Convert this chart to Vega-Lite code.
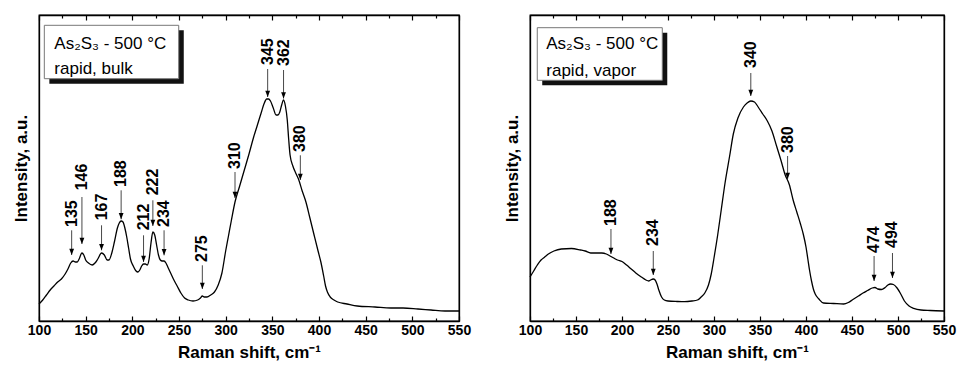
{
  "$schema": "https://vega.github.io/schema/vega-lite/v6.json",
  "padding": {"left": 11, "top": 13, "right": 0, "bottom": 0},
  "spacing": 30,
  "config": {
    "view": {"stroke": "#000000", "strokeWidth": 1.3},
    "font": "Liberation Sans",
    "axis": {"grid": false, "tickColor": "#000000", "domainColor": "#000000", "labelColor": "#000000", "titleColor": "#000000"}
  },
  "datasets": {
    "bulk": [
      {"shift":100,"intensity":17},{"shift":104,"intensity":21},{"shift":108,"intensity":26},{"shift":112,"intensity":31},{"shift":116,"intensity":35},{"shift":120,"intensity":39},{"shift":124,"intensity":42},{"shift":128,"intensity":47},{"shift":131,"intensity":52},{"shift":134,"intensity":58},{"shift":136.5,"intensity":60},{"shift":139,"intensity":59},{"shift":141,"intensity":59},{"shift":143,"intensity":62},{"shift":146,"intensity":68},{"shift":148,"intensity":66},{"shift":150,"intensity":61},{"shift":153,"intensity":58},{"shift":157,"intensity":56},{"shift":160,"intensity":58},{"shift":163,"intensity":62},{"shift":167,"intensity":68},{"shift":170,"intensity":66},{"shift":173,"intensity":61},{"shift":175,"intensity":61},{"shift":178,"intensity":68},{"shift":181,"intensity":80},{"shift":184,"intensity":93},{"shift":186,"intensity":98},{"shift":188,"intensity":100},{"shift":190,"intensity":99},{"shift":192,"intensity":93},{"shift":194,"intensity":84},{"shift":196,"intensity":73},{"shift":198,"intensity":62},{"shift":201,"intensity":55},{"shift":204,"intensity":50},{"shift":206,"intensity":49},{"shift":208,"intensity":51},{"shift":210,"intensity":55},{"shift":212,"intensity":57},{"shift":214,"intensity":57},{"shift":216,"intensity":56},{"shift":218,"intensity":62},{"shift":220,"intensity":78},{"shift":222,"intensity":89},{"shift":224,"intensity":86},{"shift":226,"intensity":76},{"shift":228,"intensity":66},{"shift":230,"intensity":61},{"shift":232,"intensity":60},{"shift":234,"intensity":60},{"shift":236,"intensity":58},{"shift":238,"intensity":54},{"shift":241,"intensity":48},{"shift":244,"intensity":42},{"shift":248,"intensity":35},{"shift":252,"intensity":28},{"shift":256,"intensity":23},{"shift":260,"intensity":21},{"shift":265,"intensity":20},{"shift":270,"intensity":21},{"shift":273,"intensity":23},{"shift":275,"intensity":25},{"shift":277,"intensity":24},{"shift":280,"intensity":24},{"shift":284,"intensity":26},{"shift":288,"intensity":29},{"shift":292,"intensity":36},{"shift":296,"intensity":48},{"shift":300,"intensity":70},{"shift":303,"intensity":85},{"shift":306,"intensity":100},{"shift":310,"intensity":119},{"shift":315,"intensity":135},{"shift":320,"intensity":151},{"shift":325,"intensity":167},{"shift":330,"intensity":184},{"shift":334,"intensity":196},{"shift":338,"intensity":208},{"shift":341,"intensity":217},{"shift":344,"intensity":222},{"shift":346,"intensity":222},{"shift":348,"intensity":220},{"shift":351,"intensity":213},{"shift":354,"intensity":206},{"shift":356,"intensity":206},{"shift":358,"intensity":209},{"shift":360,"intensity":216},{"shift":362,"intensity":221},{"shift":364,"intensity":215},{"shift":366,"intensity":201},{"shift":367.5,"intensity":182},{"shift":369,"intensity":166},{"shift":372,"intensity":155},{"shift":375,"intensity":148},{"shift":378,"intensity":142},{"shift":382,"intensity":130},{"shift":386,"intensity":119},{"shift":390,"intensity":104},{"shift":395,"intensity":85},{"shift":399,"intensity":70},{"shift":402,"intensity":59},{"shift":405,"intensity":45},{"shift":407,"intensity":35},{"shift":409,"intensity":29},{"shift":412,"intensity":24},{"shift":416,"intensity":21},{"shift":420,"intensity":19},{"shift":430,"intensity":17},{"shift":441,"intensity":15},{"shift":460,"intensity":14},{"shift":477,"intensity":13},{"shift":490,"intensity":13},{"shift":506,"intensity":12},{"shift":520,"intensity":11},{"shift":535,"intensity":10},{"shift":550,"intensity":10}
    ],
    "vapor": [
      {"shift":100,"intensity":44},{"shift":104,"intensity":50},{"shift":108,"intensity":56},{"shift":112,"intensity":61},{"shift":116,"intensity":64},{"shift":120,"intensity":67},{"shift":126,"intensity":70},{"shift":134,"intensity":72},{"shift":145,"intensity":72.5},{"shift":155,"intensity":71},{"shift":160,"intensity":70},{"shift":166,"intensity":68},{"shift":172,"intensity":68},{"shift":178,"intensity":68},{"shift":183,"intensity":67},{"shift":187,"intensity":65},{"shift":191,"intensity":63},{"shift":195,"intensity":61},{"shift":200,"intensity":59.5},{"shift":205,"intensity":56},{"shift":210,"intensity":52},{"shift":215,"intensity":48},{"shift":221,"intensity":44},{"shift":226,"intensity":41},{"shift":229,"intensity":40},{"shift":231,"intensity":41},{"shift":234,"intensity":42},{"shift":236,"intensity":41},{"shift":238,"intensity":37},{"shift":240,"intensity":31},{"shift":243,"intensity":24},{"shift":246,"intensity":21},{"shift":250,"intensity":20},{"shift":260,"intensity":19.5},{"shift":268,"intensity":19.3},{"shift":276,"intensity":20},{"shift":282,"intensity":21},{"shift":286,"intensity":24},{"shift":290,"intensity":28},{"shift":294,"intensity":36},{"shift":297,"intensity":47},{"shift":300,"intensity":63},{"shift":304,"intensity":86},{"shift":308,"intensity":112},{"shift":312,"intensity":138},{"shift":317,"intensity":165},{"shift":321,"intensity":187},{"shift":326,"intensity":203},{"shift":332,"intensity":214},{"shift":336,"intensity":218},{"shift":340,"intensity":220},{"shift":344,"intensity":219},{"shift":348,"intensity":214},{"shift":353,"intensity":207},{"shift":358,"intensity":200},{"shift":363,"intensity":190},{"shift":368,"intensity":175},{"shift":373,"intensity":160},{"shift":377,"intensity":147},{"shift":382,"intensity":136},{"shift":386,"intensity":121},{"shift":390,"intensity":109},{"shift":394,"intensity":97},{"shift":397,"intensity":87},{"shift":400,"intensity":74},{"shift":402,"intensity":62},{"shift":404,"intensity":50},{"shift":406,"intensity":40},{"shift":408,"intensity":32},{"shift":410,"intensity":27},{"shift":414,"intensity":22},{"shift":419,"intensity":18},{"shift":430,"intensity":17.5},{"shift":441,"intensity":17},{"shift":446,"intensity":18.5},{"shift":451,"intensity":21.5},{"shift":457,"intensity":25},{"shift":462,"intensity":28},{"shift":467,"intensity":30.5},{"shift":472,"intensity":33},{"shift":475,"intensity":33.5},{"shift":478,"intensity":32},{"shift":482,"intensity":31.5},{"shift":486,"intensity":33.5},{"shift":489,"intensity":36},{"shift":492,"intensity":37},{"shift":495,"intensity":36.5},{"shift":499,"intensity":33},{"shift":503,"intensity":27},{"shift":507,"intensity":20},{"shift":512,"intensity":15},{"shift":517,"intensity":12.7},{"shift":525,"intensity":11},{"shift":535,"intensity":10.5},{"shift":550,"intensity":10}
    ],
    "bulkPeaks": [
      {"peak":135,"label":"135","text":94,"top":90.7,"tip":66},
      {"peak":146,"label":"146","text":130.7,"top":124,"tip":77},
      {"peak":167,"label":"167","text":100.7,"top":95.7,"tip":70.7},
      {"peak":188,"label":"188","text":134,"top":130.7,"tip":101.7},
      {"peak":212,"label":"212","text":90.7,"top":85.7,"tip":59},
      {"peak":222,"label":"222","text":125.7,"top":120.7,"tip":95},
      {"peak":234,"label":"234","text":94,"top":90.7,"tip":65.7},
      {"peak":275,"label":"275","text":59,"top":55.7,"tip":32},
      {"peak":310,"label":"310","text":152,"top":149,"tip":123},
      {"peak":345,"label":"345","text":256,"top":252,"tip":224},
      {"peak":362,"label":"362","text":255,"top":251,"tip":222.5},
      {"peak":380,"label":"380","text":169,"top":165.7,"tip":141}
    ],
    "vaporPeaks": [
      {"peak":188,"label":"188","text":95,"top":92,"tip":67},
      {"peak":234,"label":"234","text":75,"top":70,"tip":46},
      {"peak":340,"label":"340","text":253,"top":248,"tip":225},
      {"peak":380,"label":"380","text":168,"top":165,"tip":142},
      {"peak":474,"label":"474","text":68,"top":65,"tip":40},
      {"peak":494,"label":"494","text":73,"top":68,"tip":43}
    ],
    "one": [{}]
  },
  "hconcat": [
    {
      "width": 420,
      "height": 306,
      "view": {"stroke": "#000000", "strokeWidth": 1.3},
      "resolve": {"axis": {"x": "independent", "y": "independent"}},
      "layer": [
        {
          "data": {"name": "bulk"},
          "mark": {"type": "line", "color": "#000000", "strokeWidth": 1.3, "interpolate": "monotone"},
          "encoding": {
            "x": {"field": "shift", "type": "quantitative", "scale": {"domain": [100, 550], "nice": false, "zero": false},
              "axis": {"orient": "bottom", "values": [100,150,200,250,300,350,400,450,500,550],
                "ticks": true, "tickSize": -5, "tickWidth": 1.2, "domain": true, "domainWidth": 1.3,
                "labelFontSize": 14, "labelFontWeight": "bold", "labelPadding": 7, "labelFlush": false, "labelOverlap": false,
                "title": "Raman shift, cm⁻¹", "titleFontSize": 17, "titleFontWeight": "bold", "titlePadding": 7}},
            "y": {"field": "intensity", "type": "quantitative", "scale": {"domain": [0, 306], "nice": false},
              "axis": {"ticks": false, "labels": false, "domain": true, "domainWidth": 1.3, "title": "Intensity, a.u.", "titleFontSize": 17, "titleFontWeight": "bold", "titlePadding": 9}}
          }
        },
        {
          "data": {"name": "bulkPeaks"},
          "mark": {"type": "rule", "color": "#333333", "strokeWidth": 0.9},
          "encoding": {
            "x": {"field": "peak", "type": "quantitative",
              "axis": {"orient": "top", "values": [100,150,200,250,300,350,400,450,500,550],
                "ticks": true, "tickSize": -5, "tickWidth": 1.2, "domain": true, "domainWidth": 1.3, "labels": false, "title": null}},
            "y": {"field": "top", "type": "quantitative",
              "axis": {"orient": "right", "ticks": false, "labels": false, "domain": true, "domainWidth": 1.3, "title": null}},
            "y2": {"field": "tip"}
          }
        },
        {
          "data": {"name": "bulkPeaks"},
          "mark": {"type": "point", "shape": "M-0.38,-1L0.38,-1L0,0Z", "filled": true, "color": "#000000", "size": 160, "opacity": 1},
          "encoding": {
            "x": {"field": "peak", "type": "quantitative",
              "axis": {"orient": "bottom", "values": [125,175,225,275,325,375,425,475,525],
                "ticks": true, "tickSize": -3, "tickWidth": 1.2, "domain": false, "labels": false, "title": null}},
            "y": {"field": "tip", "type": "quantitative", "axis": null}
          }
        },
        {
          "data": {"name": "bulkPeaks"},
          "mark": {"type": "text", "angle": 270, "align": "left", "baseline": "middle", "fontSize": 16, "fontWeight": "bold", "color": "#000000", "font": "Liberation Sans"},
          "encoding": {
            "x": {"field": "peak", "type": "quantitative",
              "axis": {"orient": "top", "values": [125,175,225,275,325,375,425,475,525],
                "ticks": true, "tickSize": -3, "tickWidth": 1.2, "domain": false, "labels": false, "title": null}},
            "y": {"field": "text", "type": "quantitative", "axis": null},
            "text": {"field": "label"}
          }
        },
        {
          "data": {"name": "one"},
          "mark": {"type": "rect", "fill": "#111111", "opacity": 1},
          "encoding": {
            "x": {"datum": 111.1, "type": "quantitative", "axis": null},
            "x2": {"datum": 255.1},
            "y": {"datum": 290.7, "type": "quantitative", "axis": null},
            "y2": {"datum": 237.3}
          }
        },
        {
          "data": {"name": "one"},
          "mark": {"type": "rect", "fill": "#ffffff", "stroke": "#777777", "strokeWidth": 1, "opacity": 1},
          "encoding": {
            "x": {"datum": 105.7, "type": "quantitative", "axis": null},
            "x2": {"datum": 249.7},
            "y": {"datum": 295.7, "type": "quantitative", "axis": null},
            "y2": {"datum": 242.3}
          }
        },
        {
          "data": {"name": "one"},
          "mark": {"type": "text", "text": "As₂S₃ - 500 °C", "align": "left", "baseline": "alphabetic", "fontSize": 17, "color": "#000000", "font": "Liberation Sans"},
          "encoding": {
            "x": {"datum": 116.4, "type": "quantitative", "axis": null},
            "y": {"datum": 272, "type": "quantitative", "axis": null}
          }
        },
        {
          "data": {"name": "one"},
          "mark": {"type": "text", "text": "rapid, bulk", "align": "left", "baseline": "alphabetic", "fontSize": 17, "color": "#000000", "font": "Liberation Sans"},
          "encoding": {
            "x": {"datum": 116.4, "type": "quantitative", "axis": null},
            "y": {"datum": 247, "type": "quantitative", "axis": null}
          }
        }
      ]
    },
    {
      "width": 414,
      "height": 306,
      "view": {"stroke": "#000000", "strokeWidth": 1.3},
      "resolve": {"axis": {"x": "independent", "y": "independent"}},
      "layer": [
        {
          "data": {"name": "vapor"},
          "mark": {"type": "line", "color": "#000000", "strokeWidth": 1.3, "interpolate": "monotone"},
          "encoding": {
            "x": {"field": "shift", "type": "quantitative", "scale": {"domain": [100, 550], "nice": false, "zero": false},
              "axis": {"orient": "bottom", "values": [100,150,200,250,300,350,400,450,500,550],
                "ticks": true, "tickSize": -5, "tickWidth": 1.2, "domain": true, "domainWidth": 1.3,
                "labelFontSize": 14, "labelFontWeight": "bold", "labelPadding": 7, "labelFlush": false, "labelOverlap": false,
                "title": "Raman shift, cm⁻¹", "titleFontSize": 17, "titleFontWeight": "bold", "titlePadding": 7}},
            "y": {"field": "intensity", "type": "quantitative", "scale": {"domain": [0, 306], "nice": false},
              "axis": {"ticks": false, "labels": false, "domain": true, "domainWidth": 1.3, "title": "Intensity, a.u.", "titleFontSize": 17, "titleFontWeight": "bold", "titlePadding": 9}}
          }
        },
        {
          "data": {"name": "vaporPeaks"},
          "mark": {"type": "rule", "color": "#333333", "strokeWidth": 0.9},
          "encoding": {
            "x": {"field": "peak", "type": "quantitative",
              "axis": {"orient": "top", "values": [100,150,200,250,300,350,400,450,500,550],
                "ticks": true, "tickSize": -5, "tickWidth": 1.2, "domain": true, "domainWidth": 1.3, "labels": false, "title": null}},
            "y": {"field": "top", "type": "quantitative",
              "axis": {"orient": "right", "ticks": false, "labels": false, "domain": true, "domainWidth": 1.3, "title": null}},
            "y2": {"field": "tip"}
          }
        },
        {
          "data": {"name": "vaporPeaks"},
          "mark": {"type": "point", "shape": "M-0.38,-1L0.38,-1L0,0Z", "filled": true, "color": "#000000", "size": 160, "opacity": 1},
          "encoding": {
            "x": {"field": "peak", "type": "quantitative",
              "axis": {"orient": "bottom", "values": [125,175,225,275,325,375,425,475,525],
                "ticks": true, "tickSize": -3, "tickWidth": 1.2, "domain": false, "labels": false, "title": null}},
            "y": {"field": "tip", "type": "quantitative", "axis": null}
          }
        },
        {
          "data": {"name": "vaporPeaks"},
          "mark": {"type": "text", "angle": 270, "align": "left", "baseline": "middle", "fontSize": 16, "fontWeight": "bold", "color": "#000000", "font": "Liberation Sans"},
          "encoding": {
            "x": {"field": "peak", "type": "quantitative",
              "axis": {"orient": "top", "values": [125,175,225,275,325,375,425,475,525],
                "ticks": true, "tickSize": -3, "tickWidth": 1.2, "domain": false, "labels": false, "title": null}},
            "y": {"field": "text", "type": "quantitative", "axis": null},
            "text": {"field": "label"}
          }
        },
        {
          "data": {"name": "one"},
          "mark": {"type": "rect", "fill": "#111111", "opacity": 1},
          "encoding": {
            "x": {"datum": 113.3, "type": "quantitative", "axis": null},
            "x2": {"datum": 249.2},
            "y": {"datum": 288.3, "type": "quantitative", "axis": null},
            "y2": {"datum": 235.7}
          }
        },
        {
          "data": {"name": "one"},
          "mark": {"type": "rect", "fill": "#ffffff", "stroke": "#777777", "strokeWidth": 1, "opacity": 1},
          "encoding": {
            "x": {"datum": 107.9, "type": "quantitative", "axis": null},
            "x2": {"datum": 243.8},
            "y": {"datum": 293.3, "type": "quantitative", "axis": null},
            "y2": {"datum": 240.7}
          }
        },
        {
          "data": {"name": "one"},
          "mark": {"type": "text", "text": "As₂S₃ - 500 °C", "align": "left", "baseline": "alphabetic", "fontSize": 17, "color": "#000000", "font": "Liberation Sans"},
          "encoding": {
            "x": {"datum": 117.7, "type": "quantitative", "axis": null},
            "y": {"datum": 271.7, "type": "quantitative", "axis": null}
          }
        },
        {
          "data": {"name": "one"},
          "mark": {"type": "text", "text": "rapid, vapor", "align": "left", "baseline": "alphabetic", "fontSize": 17, "color": "#000000", "font": "Liberation Sans"},
          "encoding": {
            "x": {"datum": 117.7, "type": "quantitative", "axis": null},
            "y": {"datum": 245, "type": "quantitative", "axis": null}
          }
        }
      ]
    }
  ]
}
